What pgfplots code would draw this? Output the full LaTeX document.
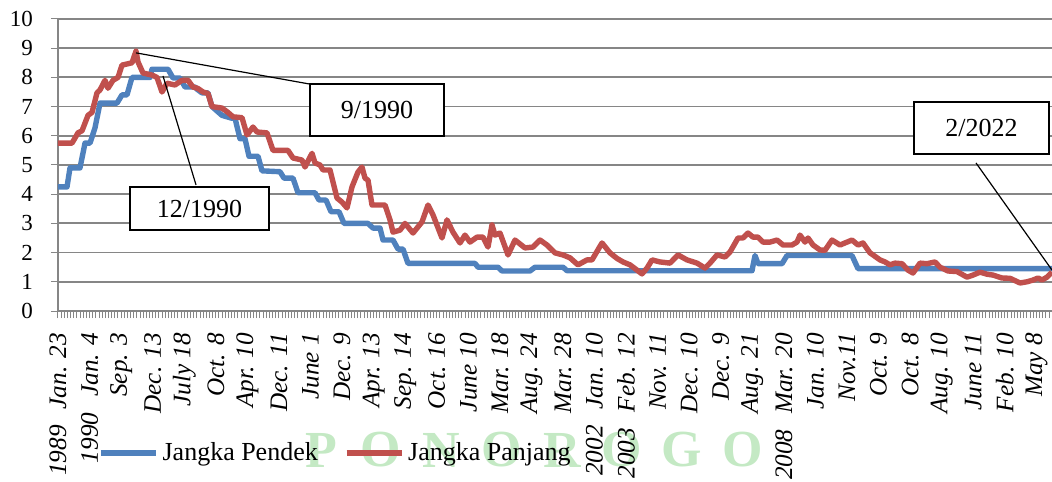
\documentclass[border=0pt]{standalone}
\usepackage{fontspec}
\setmainfont{Liberation Serif}
\usepackage{pgfplots}
\pgfplotsset{compat=1.18}
\definecolor{pendek}{RGB}{79,129,189}
\definecolor{panjang}{RGB}{192,80,77}
\definecolor{gridgray}{RGB}{134,134,134}
\definecolor{wm}{RGB}{196,233,196}
\newcommand{\lbl}{\fontsize{13}{15}\selectfont}
\begin{document}
\begin{tikzpicture}
% watermark behind the chart
\foreach \c/\px in {P/321,O/381,N/441,O/502,R/562,O/622,G/682,O/743}
  \node[text=wm,font=\fontsize{26}{28}\selectfont\bfseries] at ({(\px-58)*0.5pt},{(311-450)*0.5pt}) {\c};
\begin{axis}[name=ax,scale only axis,width=497pt,height=146pt,
 xmin=0,xmax=994,ymin=0,ymax=10,clip=false,
 axis x line*=bottom,axis y line*=left,
 axis line style={gridgray,line width=0.9pt},
 ytick={0,...,10},ymajorgrids,grid style={gridgray,line width=0.9pt},
 xtick={0,31.56,...,980},minor xtick={0,3.156,...,995},
 tick align=outside,major tick length=3.5pt,minor tick length=3.5pt,
 tick style={gridgray,line width=0.5pt},
 xticklabels={{1989\hspace{8pt}Jan. 23},{1990\hspace{8pt}Jan. 4},Sep. 3,Dec. 13,July 18,Oct. 8,Apr. 10,Dec. 11,June 1,Dec. 9,Apr. 13,Sep. 14,Oct. 16,June 10,Mar. 18,Aug. 24,Mar. 28,{2002\hspace{8pt}Jan. 10},{2003\hspace{8pt}Feb. 12},Nov. 11,Dec. 10,Dec. 9,Aug. 21,{2008\hspace{8pt}Mar. 20},Jan. 10,Nov.11,Oct. 9,Oct. 8,Aug. 10,June 11,Feb. 10,May 8},
 xticklabel shift=4pt,
 xticklabel style={rotate=90,anchor=east,font=\fontsize{12.6}{14}\selectfont\itshape},
 yticklabel shift=5.5pt,
 yticklabel style={font=\fontsize{11.5}{13}\selectfont},
 /pgf/number format/assume math mode=true,
 legend style={at={(0.034,-0.486)},anchor=west,draw=none,fill=none,font=\lbl,
  legend columns=2,/tikz/every even column/.append style={column sep=11pt}},
 legend image code/.code={\draw[#1] (0pt,0pt) -- (27.5pt,0pt);},
]
\addplot[pendek,line width=2.7pt,line join=round] coordinates {
(0,4.25) (9,4.25) (12,4.9) (22,4.9) (27,5.75) (32,5.75) (37,6.27) (42,7.12) (59,7.12)
(64,7.4) (69,7.4) (74,8.0) (92,8.0) (94,8.28) (110,8.28) (115,7.98) (122,7.98) (127,7.67)
(137,7.67) (140,7.57) (144,7.47) (150,7.47) (154,7.0) (164,6.7) (174,6.6) (177,6.6)
(182,5.9) (187,5.9) (191,5.3) (200,5.3) (204,4.8) (222,4.77) (226,4.55) (235,4.55)
(240,4.05) (257,4.05) (261,3.8) (268,3.8) (273,3.4) (281,3.4) (286,3.0) (310,3.0)
(315,2.84) (322,2.84) (325,2.43) (335,2.43) (340,2.12) (345,2.12) (350,1.63) (417,1.63)
(420,1.5) (440,1.5) (444,1.37) (472,1.37) (477,1.5) (505,1.5) (509,1.38) (694,1.38)
(697,1.9) (700,1.62) (724,1.62) (729,1.9) (794,1.9) (800,1.45) (994,1.45)};
\addlegendentry{Jangka Pendek}
\addplot[panjang,line width=2.7pt,line join=round] coordinates {
(0,5.75) (14,5.75) (20,6.1) (24,6.17) (30,6.7) (34,6.8) (39,7.47) (42,7.57) (47,7.9)
(50,7.63) (55,7.9) (60,8.0) (64,8.42) (74,8.5) (78,8.9) (80,8.53) (85,8.15) (94,8.08)
(99,8.0) (104,7.5) (109,7.8) (117,7.74) (124,7.9) (130,7.9) (135,7.67) (140,7.62)
(145,7.5) (150,7.45) (154,7.0) (164,6.95) (170,6.8) (175,6.65) (184,6.62) (189,6.03)
(195,6.3) (199,6.13) (209,6.1) (215,5.5) (230,5.5) (235,5.24) (244,5.17) (247,4.93)
(254,5.4) (257,5.07) (262,5.0) (265,4.83) (272,4.83) (279,3.87) (284,3.73) (289,3.53)
(294,4.25) (300,4.76) (304,4.93) (307,4.55) (310,4.48) (314,3.63) (327,3.63) (332,3.12)
(335,2.7) (342,2.77) (347,3.0) (355,2.67) (364,3.05) (370,3.63) (375,3.29) (384,2.5)
(389,3.12) (395,2.7) (402,2.33) (407,2.6) (412,2.36) (419,2.53) (425,2.53) (430,2.19)
(434,2.95) (437,2.6) (442,2.67) (450,1.92) (457,2.43) (467,2.16) (475,2.19) (482,2.43)
(489,2.26) (497,1.99) (505,1.92) (512,1.82) (520,1.58) (529,1.75) (534,1.75) (544,2.33)
(552,1.99) (559,1.8) (565,1.68) (572,1.58) (579,1.4) (584,1.27) (589,1.47) (594,1.75)
(602,1.68) (612,1.64) (620,1.92) (629,1.75) (639,1.64) (647,1.47) (652,1.64) (659,1.92)
(667,1.85) (672,2.02) (680,2.5) (685,2.5) (690,2.67) (695,2.53) (700,2.53) (705,2.36)
(712,2.36) (719,2.43) (725,2.26) (734,2.26) (739,2.36) (742,2.6) (747,2.36) (750,2.5)
(755,2.26) (762,2.09) (767,2.08) (774,2.43) (782,2.26) (794,2.43) (800,2.26) (805,2.33)
(812,1.99) (815,1.92) (822,1.75) (827,1.68) (832,1.58) (837,1.64) (844,1.62) (850,1.4)
(855,1.3) (862,1.64) (869,1.62) (877,1.68) (882,1.5) (890,1.37) (899,1.35) (909,1.16)
(915,1.23) (922,1.33) (929,1.26) (935,1.23) (944,1.13) (952,1.12) (962,0.96) (969,1.0)
(975,1.06) (980,1.13) (984,1.06) (989,1.16) (994,1.33)};
\addlegendentry{Jangka Panjang}
% callouts
\draw[line width=0.6pt] (axis cs:78,8.84) -- (axis cs:252,7.77);
\draw[line width=1pt,fill=white] (axis cs:252,7.77) rectangle (axis cs:386,5.99);
\node[font=\lbl] at (axis cs:319,6.88) {9/1990};
\draw[line width=0.6pt] (axis cs:105,8.05) -- (axis cs:138,4.32);
\draw[line width=1pt,fill=white] (axis cs:72,4.25) rectangle (axis cs:211,2.77);
\node[font=\lbl] at (axis cs:141.5,3.51) {12/1990};
\draw[line width=0.6pt] (axis cs:918,5.07) -- (axis cs:994,1.40);
\draw[line width=1pt,fill=white] (axis cs:856,7.16) rectangle (axis cs:991,5.38);
\node[font=\lbl] at (axis cs:923.5,6.27) {2/2022};
\end{axis}
\pgfresetboundingbox
\path[use as bounding box] ([xshift=-29pt,yshift=-85pt]ax.south west) rectangle ([yshift=9.5pt]ax.north east);
\end{tikzpicture}
\end{document}
